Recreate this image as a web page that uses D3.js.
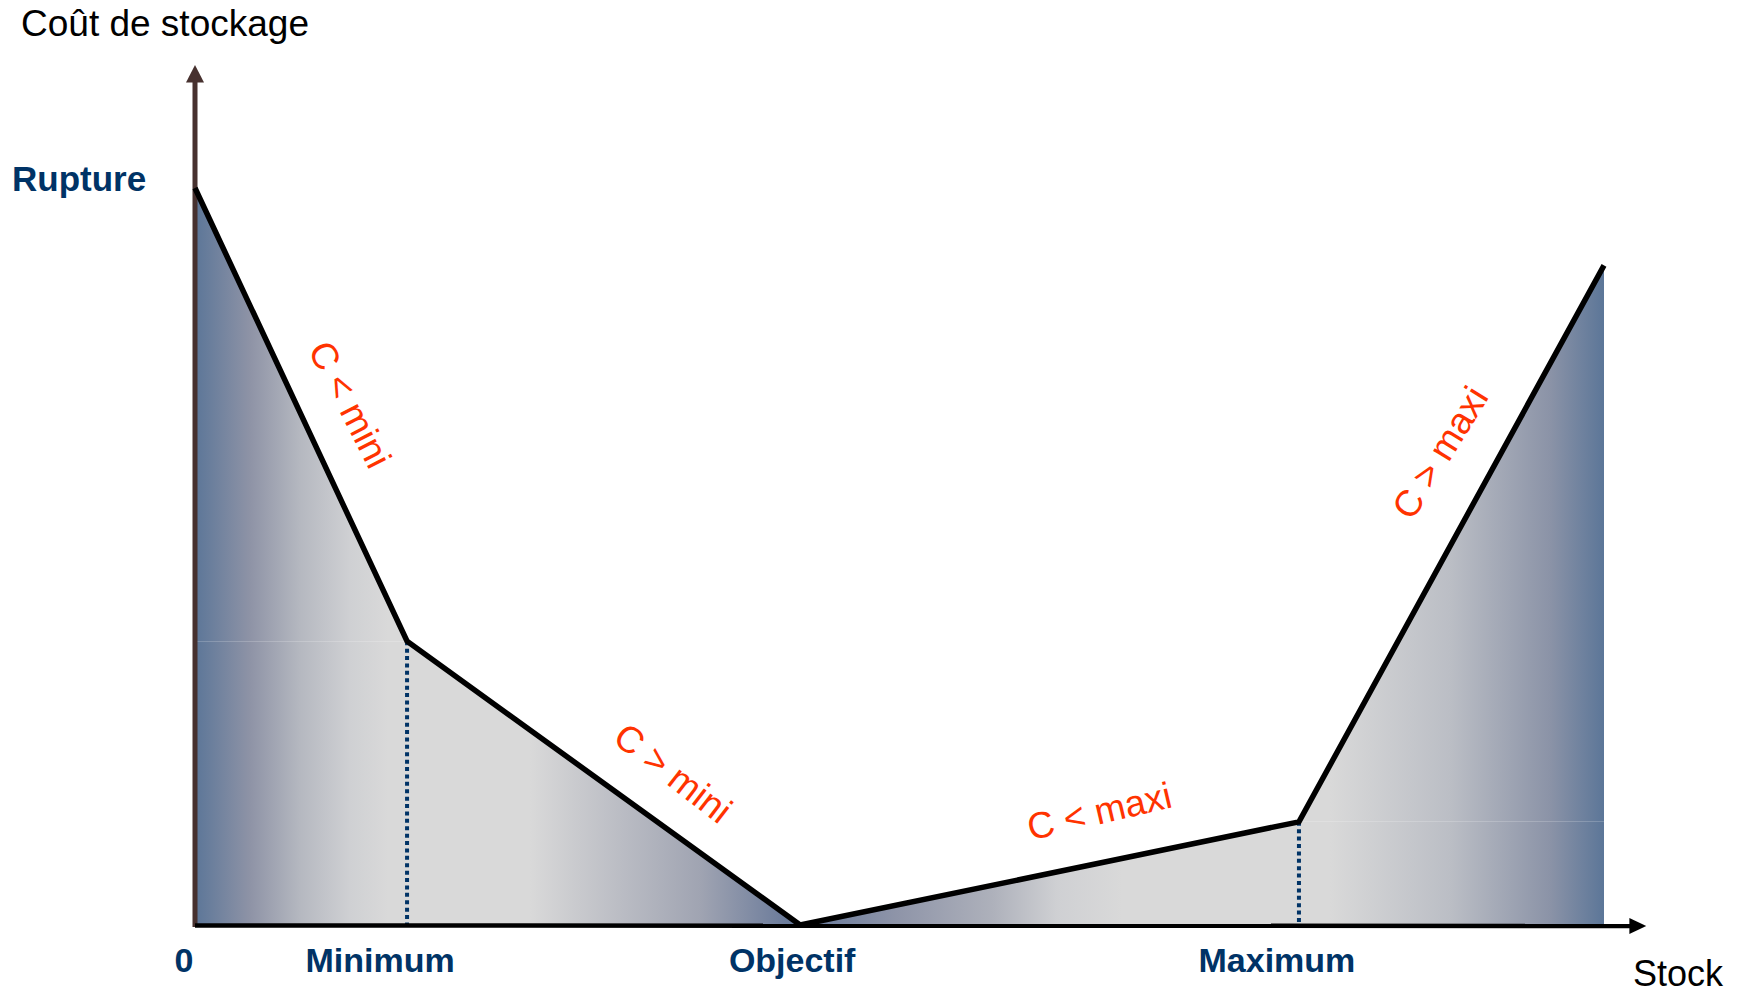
<!DOCTYPE html>
<html>
<head>
<meta charset="utf-8">
<script src="https://cdn.jsdelivr.net/npm/d3@7"></script>
<style>
  html, body { margin: 0; padding: 0; background: #ffffff; }
  svg { display: block; }
</style>
</head>
<body>
<script>
// ---- data ----
const stockPoints = [0, 15.05, 42.95, 78.35, 100];       // x positions (stock level)
const costValues  = [100, 38.5, 0, 14, 89.5];            // cost at each point
const tickLabels  = ["0", "Minimum", "Objectif", "Maximum"];
const tickValues  = [0, 15.05, 42.95, 78.35];
const segmentLabels = ["C < mini", "C > mini", "C < maxi", "C > maxi"];
const axisTitles  = ["Coût de stockage", "Stock"];
const ruptureLabel = "Rupture";

const W = 1746, H = 993;
const x = d3.scaleLinear().domain([0, 100]).range([195, 1604]);
const y = d3.scaleLinear().domain([0, 100]).range([925, 188]);

const svg = d3.select("body").append("svg").attr("width", W).attr("height", H);
const defs = svg.append("defs");

const BLUE = "#5C7698", GRAY = "#D9D9D9";
// gradient defined with absolute pixel stops
function grad(id, x0, x1, stops) {
  const g = defs.append("linearGradient").attr("id", id)
    .attr("gradientUnits", "userSpaceOnUse")
    .attr("x1", x0).attr("x2", x1).attr("y1", 0).attr("y2", 0);
  stops.forEach(s => g.append("stop")
    .attr("offset", Math.max(0, Math.min(1, (s[0] - x0) / (x1 - x0))))
    .attr("stop-color", s[1]));
}
const pts = stockPoints.map((s, i) => ({s, c: costValues[i]}));

const leftStops = [[195, BLUE], [250, "#8E93A6"], [300, "#B5B8C0"], [350, "#CFD0D3"], [388, GRAY]];
grad("gA", x(0), x(stockPoints[1]), leftStops.concat([[407, GRAY]]));
grad("gB", x(0), x(stockPoints[2]), leftStops.concat([
  [530, GRAY], [580, "#C8C9CD"], [700, "#A0A4B2"], [780, "#6F7E9C"], [800, "#64789A"]]));
const rightStops = [[1330, GRAY], [1450, "#BBBEC5"], [1550, "#8B93A7"], [1604, BLUE]];
grad("gC", x(stockPoints[2]), x(100), [[800, "#66799B"], [896, "#8E94A8"], [993, "#AEB1BB"],
  [1057, "#CFD0D3"], [1122, GRAY]].concat(rightStops));
grad("gD", x(stockPoints[3]), x(100), [[1299, GRAY]].concat(rightStops));

const area = d3.area().x(d => x(d.s)).y0(d => y(d.b)).y1(d => y(d.t));

// upper-left triangle
svg.append("path").attr("fill", "url(#gA)").attr("d", area([
  {s: 0, b: costValues[1], t: costValues[0]},
  {s: stockPoints[1], b: costValues[1], t: costValues[1]}
]));
// lower-left block
svg.append("path").attr("fill", "url(#gB)").attr("d", area([
  {s: 0, b: 0, t: costValues[1]},
  {s: stockPoints[1], b: 0, t: costValues[1]},
  {s: stockPoints[2], b: 0, t: costValues[2]}
]));
// lower-right block
svg.append("path").attr("fill", "url(#gC)").attr("d", area([
  {s: stockPoints[2], b: 0, t: costValues[2]},
  {s: stockPoints[3], b: 0, t: costValues[3]},
  {s: 100, b: 0, t: costValues[3]}
]));
// upper-right triangle
svg.append("path").attr("fill", "url(#gD)").attr("d", area([
  {s: stockPoints[3], b: costValues[3], t: costValues[3]},
  {s: 100, b: costValues[3], t: costValues[4]}
]));

// dotted guides at Minimum and Maximum
[1, 3].forEach(i => {
  svg.append("line")
    .attr("x1", x(stockPoints[i])).attr("x2", x(stockPoints[i]))
    .attr("y1", y(costValues[i])).attr("y2", y(0))
    .attr("stroke", "#003366").attr("stroke-width", 4)
    .attr("stroke-dasharray", "4,3.4");
});

// axes
const AX = "#47312F";
svg.append("line").attr("x1", x(0)).attr("x2", x(0))
  .attr("y1", y(0) + 2).attr("y2", y(114.5))
  .attr("stroke", AX).attr("stroke-width", 5);
svg.append("path").attr("fill", AX)
  .attr("d", `M${x(0)},${y(116.7)} L${x(0) - 9},${y(114.3)} L${x(0) + 9},${y(114.3)} Z`);

svg.append("line").attr("x1", x(0)).attr("x2", x(102))
  .attr("y1", y(0) + 0.5).attr("y2", y(0) + 1)
  .attr("stroke", "#000").attr("stroke-width", 4.5);
svg.append("path").attr("fill", "#000")
  .attr("d", `M${x(103)},${y(0) + 1} L${x(101.8)},${y(0) - 7} L${x(101.8)},${y(0) + 9} Z`);

// cost polyline
svg.append("path")
  .attr("d", d3.line().x(d => x(d.s)).y(d => y(d.c))(pts))
  .attr("fill", "none").attr("stroke", "#000").attr("stroke-width", 5.5)
  .attr("stroke-linejoin", "miter");

// axis titles
const FONT = "Liberation Sans, Arial, Helvetica, sans-serif";
svg.append("text").text(axisTitles[0]).attr("x", 21).attr("y", 36)
  .attr("font-family", FONT).attr("font-size", 37).attr("fill", "#000");
svg.append("text").text(axisTitles[1]).attr("x", 1633).attr("y", 986)
  .attr("font-family", FONT).attr("font-size", 36).attr("fill", "#000");

// Rupture label
svg.append("text").text(ruptureLabel).attr("x", 12).attr("y", y(costValues[0]) + 3)
  .attr("font-family", FONT).attr("font-size", 35).attr("font-weight", "bold")
  .attr("fill", "#003366");

// tick labels
const tickOffsets = [-11, -27, -8, -22];
svg.selectAll("text.tick").data(tickLabels).enter().append("text")
  .attr("class", "tick")
  .attr("x", (d, i) => x(tickValues[i]) + tickOffsets[i])
  .attr("y", 972)
  .attr("text-anchor", "middle")
  .attr("font-family", FONT).attr("font-size", 34).attr("font-weight", "bold")
  .attr("fill", "#003366")
  .text(d => d);

// segment labels (placed along each segment, rotated with it)
const labelPlacement = [
  {t: 0.524, off: 36, rot: -2},
  {t: 0.603, off: 36, rot: 2},
  {t: 0.621, off: 38, rot: -1.5},
  {t: 0.616, off: 41, rot: 3}
];
segmentLabels.forEach((lab, i) => {
  const p0 = pts[i], p1 = pts[i + 1];
  const x0 = x(p0.s), y0 = y(p0.c), x1 = x(p1.s), y1 = y(p1.c);
  const ang = Math.atan2(y1 - y0, x1 - x0) * 180 / Math.PI;
  const L = labelPlacement[i];
  const mx = x0 + (x1 - x0) * L.t, my = y0 + (y1 - y0) * L.t;
  const rad = ang * Math.PI / 180;
  const nx = Math.sin(rad), ny = -Math.cos(rad);
  svg.append("text")
    .attr("transform", `translate(${mx + nx * L.off},${my + ny * L.off}) rotate(${ang + L.rot})`)
    .attr("text-anchor", "middle")
    .attr("font-family", FONT).attr("font-size", 37).attr("fill", "#FF3300")
    .text(lab);
});
</script>
</body>
</html>
